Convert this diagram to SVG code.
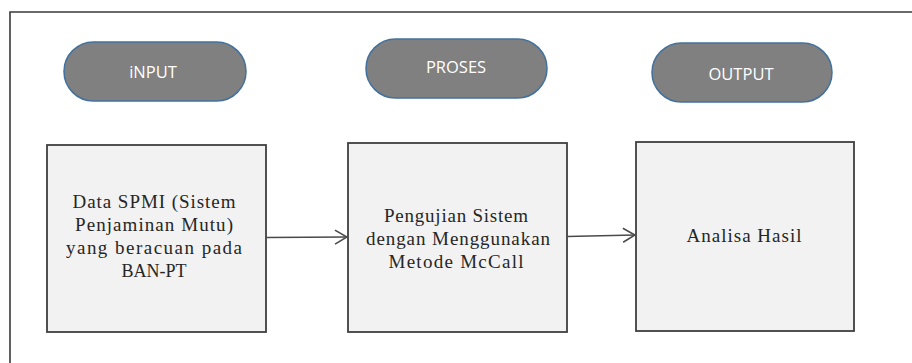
<svg xmlns="http://www.w3.org/2000/svg" width="912" height="363" viewBox="0 0 912 363">
  <style>
    .frame { fill: none; stroke: #3a3a3a; stroke-width: 1.6; }
    .pill { fill: #808080; stroke: #41719c; stroke-width: 1.5; }
    .pill-label { font-family: "Open Sans", "Liberation Sans", sans-serif; font-size: 16.5px; fill: #ffffff; text-anchor: middle; }
    .box { fill: #f2f2f2; stroke: #3f3f3f; stroke-width: 1.8; }
    .box-label { font-family: "Liberation Serif", "Times New Roman", serif; font-size: 19px; fill: #262626; text-anchor: middle; }
    .link { fill: none; stroke: #4a4a4a; stroke-width: 1.6; }
  </style>
  <defs>
    <marker id="open-arrow" viewBox="0 0 14 16" refX="13" refY="8" markerWidth="14" markerHeight="16" markerUnits="userSpaceOnUse" orient="auto">
      <path d="M1,1 L13,8 L1,15" fill="none" stroke="#4a4a4a" stroke-width="1.6"/>
    </marker>
  </defs>

  <rect width="912" height="363" fill="#ffffff"/>

  <!-- outer frame: only the top and left edges fall inside the canvas -->
  <path class="frame" d="M10,363 L10,12 L912,12"/>

  <!-- stage headers -->
  <g id="stage-input">
    <rect class="pill" x="64" y="42" width="182" height="59" rx="29.5" ry="29.5"/>
    <text class="pill-label" x="153" y="78">iNPUT</text>
  </g>
  <g id="stage-proses">
    <rect class="pill" x="366" y="39" width="181" height="59" rx="29.5" ry="29.5"/>
    <text class="pill-label" x="456" y="73">PROSES</text>
  </g>
  <g id="stage-output">
    <rect class="pill" x="652" y="43" width="180" height="59" rx="29.5" ry="29.5"/>
    <text class="pill-label" x="741" y="80">OUTPUT</text>
  </g>

  <!-- process boxes -->
  <g id="box-data">
    <rect class="box" x="47" y="145" width="219" height="187"/>
    <text class="box-label" x="154" y="208" textLength="163" lengthAdjust="spacing">Data SPMI (Sistem</text>
    <text class="box-label" x="154" y="231" textLength="158" lengthAdjust="spacing">Penjaminan Mutu)</text>
    <text class="box-label" x="154" y="254" textLength="176" lengthAdjust="spacing">yang beracuan pada</text>
    <text class="box-label" x="154" y="277" style="font-size:18px">BAN-PT</text>
  </g>
  <g id="box-pengujian">
    <rect class="box" x="348" y="143" width="219" height="189"/>
    <text class="box-label" x="456" y="222" textLength="144" lengthAdjust="spacing">Pengujian Sistem</text>
    <text class="box-label" x="458" y="245" textLength="184" lengthAdjust="spacing">dengan Menggunakan</text>
    <text class="box-label" x="456" y="268" textLength="135" lengthAdjust="spacing">Metode McCall</text>
  </g>
  <g id="box-analisa">
    <rect class="box" x="636" y="142" width="218" height="189"/>
    <text class="box-label" x="744" y="242" textLength="115" lengthAdjust="spacing">Analisa Hasil</text>
  </g>

  <!-- connectors -->
  <g id="connectors">
    <path class="link" d="M266,237.5 L347,237" marker-end="url(#open-arrow)"/>
    <path class="link" d="M567,236.5 L635,235" marker-end="url(#open-arrow)"/>
  </g>
</svg>
